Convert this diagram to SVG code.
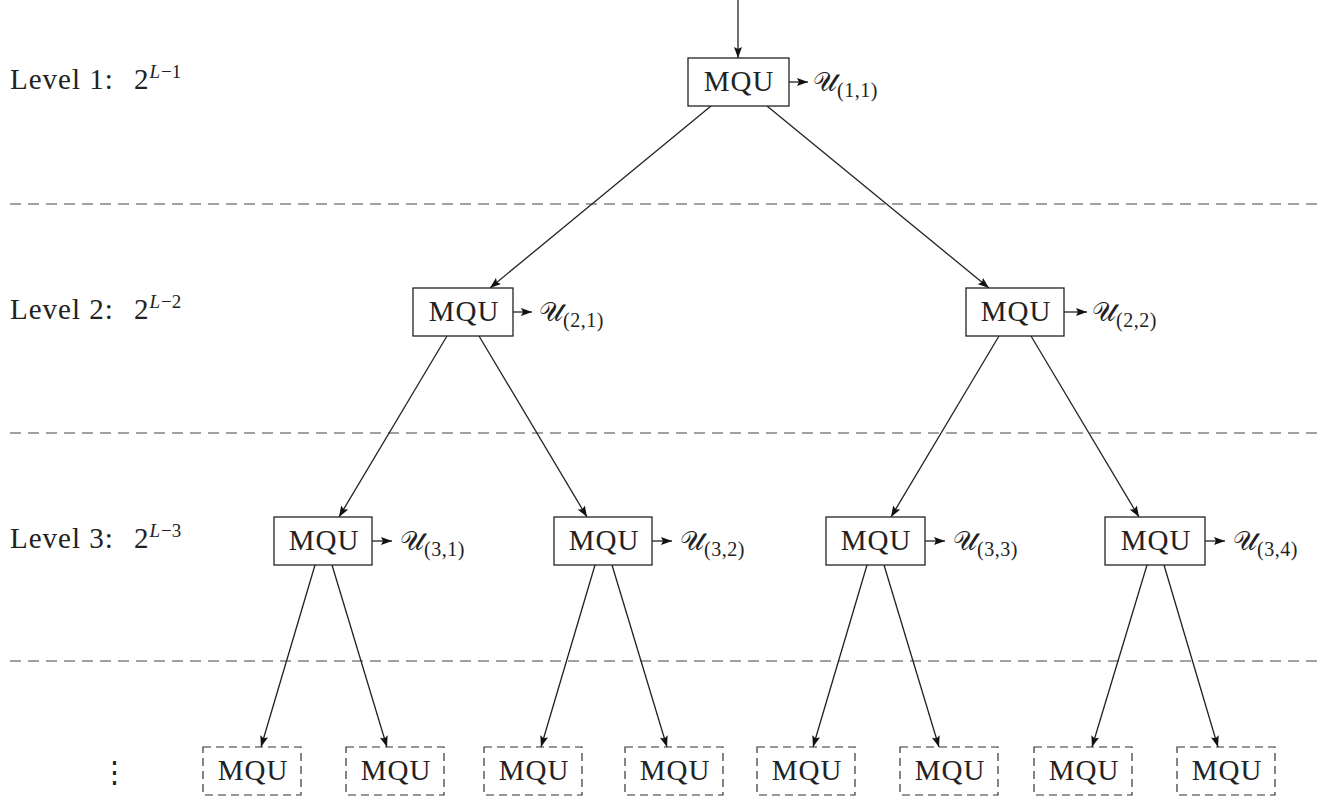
<svg xmlns="http://www.w3.org/2000/svg" width="1328" height="798" viewBox="0 0 1328 798">
<defs>
<marker id="ah" viewBox="0 0 11 8" refX="11" refY="4" markerWidth="11" markerHeight="8" markerUnits="userSpaceOnUse" orient="auto">
<path d="M0,0 L11,4 L0,8 L2,4 Z" fill="#111"/>
</marker>
<style>
.box{fill:#fff;stroke:#222;stroke-width:1.3}
.dbox{fill:#fff;stroke:#333;stroke-width:1.2;stroke-dasharray:8 5}
.mqu{font-family:"Liberation Serif","DejaVu Serif",serif;font-size:29px;letter-spacing:1px;fill:#222;text-anchor:middle}
.lvl{font-family:"Liberation Serif","DejaVu Serif",serif;font-size:29px;letter-spacing:1px;fill:#222}
.sup{font-size:19px;letter-spacing:0}
.ucal{font-family:"DejaVu Serif","Noto Sans","Liberation Serif",serif;font-size:27px;fill:#222}
.sub{font-family:"Liberation Serif",serif;font-size:20px;letter-spacing:0.5px}
.edge{stroke:#222;stroke-width:1.3;fill:none;marker-end:url(#ah)}
.sep{stroke:#444;stroke-width:1.2;stroke-dasharray:11 7}
</style>
</defs>

<g id="separators">
<line class="sep" x1="10" y1="204" x2="1318" y2="204"/>
<line class="sep" x1="10" y1="433" x2="1318" y2="433"/>
<line class="sep" x1="10" y1="661" x2="1318" y2="661"/>
</g>

<g id="level-labels">
<text class="lvl" x="10" y="89">Level 1:<tspan x="134">2</tspan><tspan class="sup" dy="-11" font-style="italic">L</tspan><tspan class="sup" dx="1">−1</tspan></text>
<text class="lvl" x="10" y="319">Level 2:<tspan x="134">2</tspan><tspan class="sup" dy="-11" font-style="italic">L</tspan><tspan class="sup" dx="1">−2</tspan></text>
<text class="lvl" x="10" y="548">Level 3:<tspan x="134">2</tspan><tspan class="sup" dy="-11" font-style="italic">L</tspan><tspan class="sup" dx="1">−3</tspan></text>
<text class="lvl" x="100" y="782" font-family="DejaVu Serif">⋮</text>
</g>

<g id="connectors">
<line class="edge" x1="738" y1="0" x2="738" y2="58"/>
<line class="edge" x1="711" y1="106" x2="490" y2="288"/>
<line class="edge" x1="767" y1="106" x2="989" y2="288"/>
<line class="edge" x1="447" y1="336" x2="339" y2="517"/>
<line class="edge" x1="479" y1="336" x2="587" y2="517"/>
<line class="edge" x1="999" y1="336" x2="891" y2="517"/>
<line class="edge" x1="1031" y1="336" x2="1139" y2="517"/>
<line class="edge" x1="315" y1="565" x2="261" y2="747"/>
<line class="edge" x1="332" y1="565" x2="387" y2="747"/>
<line class="edge" x1="595" y1="565" x2="541" y2="747"/>
<line class="edge" x1="612" y1="565" x2="667" y2="747"/>
<line class="edge" x1="867" y1="565" x2="813" y2="747"/>
<line class="edge" x1="884" y1="565" x2="939" y2="747"/>
<line class="edge" x1="1147" y1="565" x2="1092" y2="747"/>
<line class="edge" x1="1164" y1="565" x2="1218" y2="747"/>
<line class="edge" x1="789" y1="82" x2="808" y2="82"/>
<line class="edge" x1="513" y1="312" x2="532" y2="312"/>
<line class="edge" x1="1064" y1="312" x2="1087" y2="312"/>
<line class="edge" x1="372" y1="541" x2="392" y2="541"/>
<line class="edge" x1="652" y1="541" x2="672" y2="541"/>
<line class="edge" x1="925" y1="541" x2="945" y2="541"/>
<line class="edge" x1="1205" y1="541" x2="1225" y2="541"/>
</g>

<g id="n11"><rect class="box" x="688" y="58" width="101" height="48"/><text class="mqu" x="739" y="91">MQU</text><text class="ucal" x="813" y="91">𝒰<tspan class="sub" dy="6">(1,1)</tspan></text></g>
<g id="n21"><rect class="box" x="413" y="288" width="100" height="48"/><text class="mqu" x="464" y="321">MQU</text><text class="ucal" x="539" y="321">𝒰<tspan class="sub" dy="6">(2,1)</tspan></text></g>
<g id="n22"><rect class="box" x="966" y="288" width="98" height="48"/><text class="mqu" x="1016" y="321">MQU</text><text class="ucal" x="1092" y="321">𝒰<tspan class="sub" dy="6">(2,2)</tspan></text></g>
<g id="n31"><rect class="box" x="274" y="517" width="98" height="48"/><text class="mqu" x="324" y="550">MQU</text><text class="ucal" x="400" y="550">𝒰<tspan class="sub" dy="6">(3,1)</tspan></text></g>
<g id="n32"><rect class="box" x="554" y="517" width="98" height="48"/><text class="mqu" x="604" y="550">MQU</text><text class="ucal" x="680" y="550">𝒰<tspan class="sub" dy="6">(3,2)</tspan></text></g>
<g id="n33"><rect class="box" x="826" y="517" width="99" height="48"/><text class="mqu" x="876" y="550">MQU</text><text class="ucal" x="953" y="550">𝒰<tspan class="sub" dy="6">(3,3)</tspan></text></g>
<g id="n34"><rect class="box" x="1105" y="517" width="100" height="48"/><text class="mqu" x="1156" y="550">MQU</text><text class="ucal" x="1233" y="550">𝒰<tspan class="sub" dy="6">(3,4)</tspan></text></g>

<g id="n41"><rect class="dbox" x="203" y="747" width="98" height="48"/><text class="mqu" x="253" y="780">MQU</text></g>
<g id="n42"><rect class="dbox" x="346" y="747" width="98" height="48"/><text class="mqu" x="396" y="780">MQU</text></g>
<g id="n43"><rect class="dbox" x="484" y="747" width="98" height="48"/><text class="mqu" x="534" y="780">MQU</text></g>
<g id="n44"><rect class="dbox" x="625" y="747" width="98" height="48"/><text class="mqu" x="675" y="780">MQU</text></g>
<g id="n45"><rect class="dbox" x="757" y="747" width="98" height="48"/><text class="mqu" x="807" y="780">MQU</text></g>
<g id="n46"><rect class="dbox" x="900" y="747" width="98" height="48"/><text class="mqu" x="950" y="780">MQU</text></g>
<g id="n47"><rect class="dbox" x="1034" y="747" width="98" height="48"/><text class="mqu" x="1084" y="780">MQU</text></g>
<g id="n48"><rect class="dbox" x="1177" y="747" width="98" height="48"/><text class="mqu" x="1227" y="780">MQU</text></g>
</svg>
